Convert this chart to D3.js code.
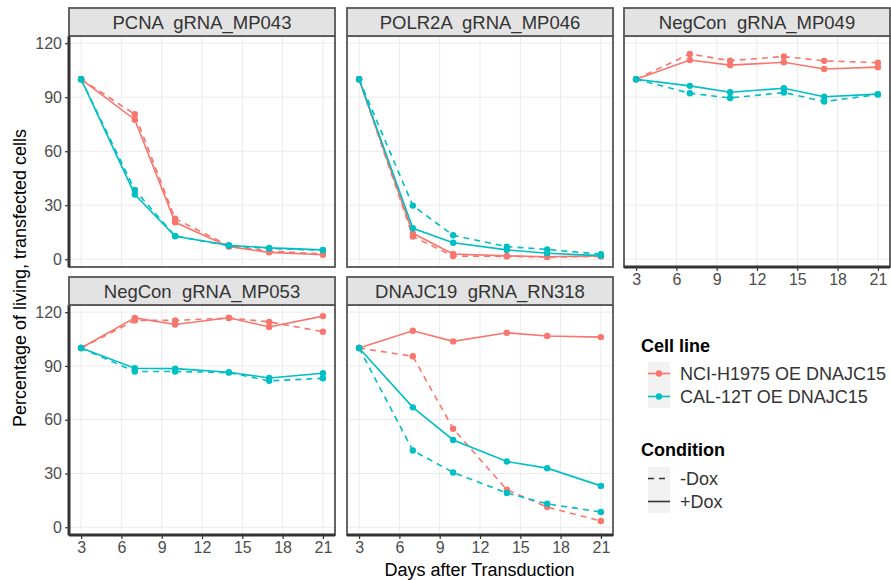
<!DOCTYPE html>
<html>
<head>
<meta charset="utf-8">
<script src="https://cdn.jsdelivr.net/npm/d3@7"></script>
<style>
  body { margin: 0; background: #fff; }
  text { font-family: "Liberation Sans", Arial, sans-serif; }
</style>
</head>
<body>
<div id="chart"></div>
<script>
// canvas
const canvWidth = 891, canvHeight = 580;
const svg = d3.select("#chart").append("svg")
    .attr("width", canvWidth)
    .attr("height", canvHeight);

// data
const days = [3, 7, 10, 14, 17, 21];
const xTicks = [3, 6, 9, 12, 15, 18, 21];
const yTicks = [0, 30, 60, 90, 120];
const cellLines = ["NCI-H1975 OE DNAJC15", "CAL-12T OE DNAJC15"];
const conditions = ["-Dox", "+Dox"];
const panelNames = ["PCNA  gRNA_MP043", "POLR2A  gRNA_MP046", "NegCon  gRNA_MP049",
                    "NegCon  gRNA_MP053", "DNAJC19  gRNA_RN318"];

// rows: H1975 -Dox, H1975 +Dox, CAL-12T -Dox, CAL-12T +Dox
const pcnaMP043 = [
    [100, 80.5, 22.5, 7.5, 4.5, 3.0],
    [100, 77.5, 20.5, 7.0, 3.8, 2.5],
    [100, 38.5, 13.0, 7.5, 6.0, 5.0],
    [100, 36.0, 12.8, 7.8, 6.3, 5.2]
];
const polr2aMP046 = [
    [100, 12.6, 1.8, 1.6, 1.2, 1.6],
    [100, 14.4, 2.9, 1.9, 1.4, 1.9],
    [100, 29.8, 13.3, 7.0, 5.5, 2.8],
    [100, 17.2, 9.2, 5.2, 3.3, 2.0]
];
const negconMP049 = [
    [100, 114.0, 110.3, 112.6, 110.2, 109.2],
    [100, 110.7, 107.8, 109.4, 105.7, 106.7],
    [100, 92.2, 89.6, 92.6, 87.6, 91.5],
    [100, 96.3, 92.8, 95.0, 90.3, 91.7]
];
const negconMP053 = [
    [100, 115.4, 115.4, 116.7, 114.6, 109.1],
    [100, 116.8, 113.1, 116.9, 111.7, 117.8],
    [100, 86.9, 86.9, 86.3, 81.7, 83.1],
    [100, 88.7, 88.5, 86.5, 83.3, 85.9]
];
const dnajc19RN318 = [
    [100, 95.4, 55.0, 20.9, 11.3, 3.5],
    [100, 109.6, 103.7, 108.5, 106.7, 106.1],
    [100, 42.8, 30.6, 19.1, 13.1, 8.5],
    [100, 66.9, 48.7, 36.7, 33.0, 23.1]
];
const panelValues = [pcnaMP043, polr2aMP046, negconMP049, negconMP053, dnajc19RN318];

// layout
const colX = [69, 347, 624];
const panelW = 266;
const rowTop = [8, 277];
const stripH = 28;
const plotH = [231, 230];

const color = d3.scaleOrdinal().domain(cellLines).range(["#F8766D", "#00BFC4"]);
const dash = d3.scaleOrdinal().domain(conditions).range(["6,5", null]);

const x = d3.scaleLinear().domain([2.1, 21.9]).range([0, panelW]);

// build series for one panel
function seriesFor(values) {
    const out = [];
    cellLines.forEach((cl, i) => {
        conditions.forEach((cond, j) => {
            const vals = values[i * 2 + j];
            out.push({cellLine: cl, condition: cond,
                      points: days.map((d, k) => ({day: d, value: vals[k]}))});
        });
    });
    return out;
}

panelNames.forEach((name, p) => {
    const row = p < 3 ? 0 : 1;
    const col = p < 3 ? p : p - 3;
    const h = plotH[row];
    const y = d3.scaleLinear().domain([-4.3, 124]).range([h, 0]);

    const g = svg.append("g")
        .attr("transform", `translate(${colX[col]},${rowTop[row] + stripH})`);

    // strip
    svg.append("rect")
        .attr("x", colX[col]).attr("y", rowTop[row])
        .attr("width", panelW).attr("height", stripH)
        .attr("fill", "#E3E3E3")
        .attr("stroke", "#555").attr("stroke-width", 1.8);
    svg.append("text")
        .attr("x", colX[col] + panelW / 2)
        .attr("y", rowTop[row] + stripH / 2 + 6.5)
        .attr("text-anchor", "middle")
        .style("white-space", "pre")
        .attr("font-size", 18.5)
        .attr("fill", "#333")
        .text(name);

    // grid
    g.selectAll(".gx").data(xTicks).join("line")
        .attr("x1", d => x(d)).attr("x2", d => x(d))
        .attr("y1", 0).attr("y2", h)
        .attr("stroke", "#EBEBEB").attr("stroke-width", 1);
    g.selectAll(".gy").data(yTicks).join("line")
        .attr("x1", 0).attr("x2", panelW)
        .attr("y1", d => y(d)).attr("y2", d => y(d))
        .attr("stroke", "#EBEBEB").attr("stroke-width", 1);

    // lines and points
    const series = seriesFor(panelValues[p]);
    const line = d3.line().x(d => x(d.day)).y(d => y(d.value));
    g.selectAll(".series").data(series).join("path")
        .attr("d", d => line(d.points))
        .attr("fill", "none")
        .attr("stroke", d => color(d.cellLine))
        .attr("stroke-width", 1.6)
        .attr("stroke-dasharray", d => dash(d.condition));
    series.forEach(s => {
        g.selectAll(null).data(s.points).join("circle")
            .attr("cx", d => x(d.day)).attr("cy", d => y(d.value))
            .attr("r", 3.2)
            .attr("fill", color(s.cellLine));
    });

    // border
    g.append("rect")
        .attr("width", panelW).attr("height", h)
        .attr("fill", "none")
        .attr("stroke", "#555").attr("stroke-width", 1.8);

    // y axis on left column
    if (col === 0) {
        const ya = g.append("g")
            .call(d3.axisLeft(y).tickValues(yTicks).tickSize(4).tickPadding(3));
        ya.select(".domain").remove();
        ya.selectAll(".tick line").attr("stroke", "#333").attr("stroke-width", 1.2);
        ya.selectAll("text").attr("font-size", 16).attr("fill", "#4D4D4D")
            .attr("font-family", "Liberation Sans, Arial, sans-serif");
        g.append("line").attr("x1", 0).attr("x2", 0).attr("y1", 0).attr("y2", h)
            .attr("stroke", "#333").attr("stroke-width", 3);
    }
    // x axis on bottom-most panels
    if (row === 1 || col === 2) {
        const xa = g.append("g")
            .attr("transform", `translate(0,${h})`)
            .call(d3.axisBottom(x).tickValues(xTicks).tickSize(4).tickPadding(3));
        xa.select(".domain").remove();
        xa.selectAll(".tick line").attr("stroke", "#333").attr("stroke-width", 1.2);
        xa.selectAll("text").attr("font-size", 16).attr("fill", "#4D4D4D")
            .attr("font-family", "Liberation Sans, Arial, sans-serif");
        g.append("line").attr("x1", 0).attr("x2", panelW).attr("y1", h).attr("y2", h)
            .attr("stroke", "#333").attr("stroke-width", 3);
    }
});

// axis titles
svg.append("text")
    .attr("x", (colX[0] + colX[2] + panelW) / 2)
    .attr("y", 576)
    .attr("text-anchor", "middle")
    .attr("font-size", 18)
    .attr("fill", "#000")
    .text("Days after Transduction");
svg.append("text")
    .attr("transform", "translate(26,278) rotate(-90)")
    .attr("text-anchor", "middle")
    .attr("font-size", 18)
    .attr("fill", "#000")
    .text("Percentage of living, transfected cells");

// legend
const legend = svg.append("g").attr("transform", "translate(641,0)");
const keyX = 7, keyW = 22, keyH = 23, labelX = 39;

legend.append("text").attr("x", 0).attr("y", 352)
    .attr("font-size", 18).attr("font-weight", "bold").text("Cell line");
cellLines.forEach((cl, i) => {
    const top = 362 + i * keyH;
    legend.append("rect").attr("x", keyX).attr("y", top)
        .attr("width", keyW).attr("height", keyH).attr("fill", "#F2F2F2");
    legend.append("line").attr("x1", keyX).attr("x2", keyX + keyW)
        .attr("y1", top + keyH / 2).attr("y2", top + keyH / 2)
        .attr("stroke", color(cl)).attr("stroke-width", 1.6);
    legend.append("circle").attr("cx", keyX + keyW / 2).attr("cy", top + keyH / 2)
        .attr("r", 3.2).attr("fill", color(cl));
    legend.append("text").attr("x", labelX).attr("y", top + keyH / 2 + 6)
        .attr("font-size", 18).attr("fill", "#333").text(cl);
});

legend.append("text").attr("x", 0).attr("y", 456)
    .attr("font-size", 18).attr("font-weight", "bold").text("Condition");
conditions.forEach((cond, i) => {
    const top = 467 + i * keyH;
    legend.append("rect").attr("x", keyX).attr("y", top)
        .attr("width", keyW).attr("height", keyH).attr("fill", "#F2F2F2");
    legend.append("line").attr("x1", keyX).attr("x2", keyX + keyW)
        .attr("y1", top + keyH / 2).attr("y2", top + keyH / 2)
        .attr("stroke", "#333").attr("stroke-width", 1.6)
        .attr("stroke-dasharray", dash(cond));
    legend.append("text").attr("x", labelX).attr("y", top + keyH / 2 + 6)
        .attr("font-size", 18).attr("fill", "#333").text(cond);
});
</script>
</body>
</html>
